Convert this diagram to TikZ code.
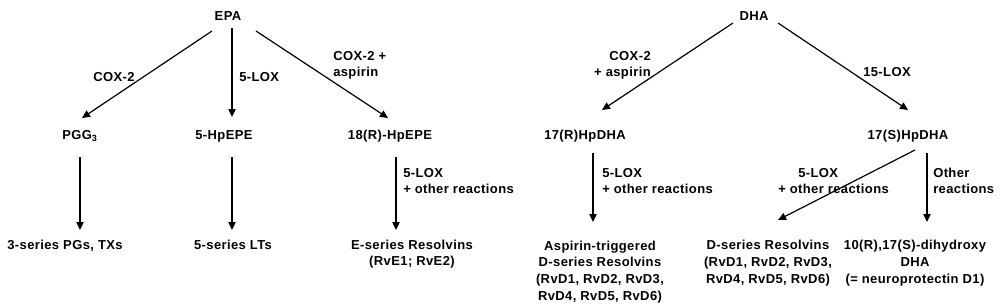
\documentclass[tikz,border=0pt]{standalone}
\usepackage{fontspec}
\setmainfont{Liberation Sans}[LetterSpace=3]
\usetikzlibrary{arrows.meta}
\begin{document}
\begin{tikzpicture}[x=0.75pt,y=-0.75pt,
  txt/.style={font=\bfseries\fontsize{9.75}{12.5}\selectfont, inner sep=0pt, align=center, anchor=base},
  lab/.style={font=\bfseries\fontsize{9.75}{12.5}\selectfont, inner sep=0pt, anchor=base west, align=left},
  arr/.style={-{Triangle[length=6pt,width=5.5pt]}, line width=0.9pt}]
\useasboundingbox[fill=white] (0,0) rectangle (1000,307);
% EPA branch
\node[txt] (epa) at (228,20) {EPA};
\node[txt] (pgg) at (80,139) {PGG\textsubscript{3}};
\node[txt] (hp5) at (224,139) {5-HpEPE};
\node[txt] (hp18) at (390,139) {18(R)-HpEPE};
\node[txt] (pgs) at (65,249) {3-series PGs, TXs};
\node[txt] (lts) at (233,249) {5-series LTs};
\node[txt] (rve) at (412,265.7) {E-series Resolvins\\(RvE1; RvE2)};
\draw[arr] ([shift={(-16,11)}]epa.base) -- ([shift={(2,-21)}]pgg.base);
\draw[arr] ([shift={(4,8)}]epa.base) -- ([shift={(8,-22)}]hp5.base);
\draw[arr] ([shift={(28,11)}]epa.base) -- ([shift={(-2,-21)}]hp18.base);
\draw[arr] ([shift={(0,18)}]pgg.base) -- ([shift={(15,-19)}]pgs.base);
\draw[arr] ([shift={(8,18)}]hp5.base) -- ([shift={(-1,-19)}]lts.base);
\draw[arr] ([shift={(6,18)}]hp18.base) -- ([shift={(-16,-35.7)}]rve.base);
\node[lab] (l1) at (93,81) {COX-2};
\node[lab] (l2) at (239,81) {5-LOX};
\node[lab] (l3) at (333,76.7) {COX-2 +\\aspirin};
\node[lab] (l4) at (403,193.7) {5-LOX\\+ other reactions};
% DHA branch
\node[txt] (dha) at (754,20) {DHA};
\node[txt] (r17) at (585,139) {17(R)HpDHA};
\node[txt] (s17) at (908,139) {17(S)HpDHA};
\node[txt] (atr) at (600,300) {Aspirin-triggered\\D-series Resolvins\\(RvD1, RvD2, RvD3,\\RvD4, RvD5, RvD6)};
\node[txt] (dsr) at (768,283.3) {D-series Resolvins\\(RvD1, RvD2, RvD3,\\RvD4, RvD5, RvD6)};
\node[txt] (npd) at (915,283.3) {10(R),17(S)-dihydroxy\\DHA\\(= neuroprotectin D1)};
\draw[arr] ([shift={(-21,3)}]dha.base) -- ([shift={(17,-29)}]r17.base);
\draw[arr] ([shift={(24,3)}]dha.base) -- ([shift={(0,-29)}]s17.base);
\draw[arr] ([shift={(8,14)}]r17.base) -- ([shift={(-7,-78)}]atr.base);
\draw[arr] ([shift={(7,11)}]s17.base) -- ([shift={(10,-63.3)}]dsr.base);
\draw[arr] ([shift={(19,14)}]s17.base) -- ([shift={(12,-61.3)}]npd.base);
\node[lab, anchor=base east, align=right] (l5) at (651,76.7) {COX-2\\+ aspirin};
\node[lab] (l6) at (863,76) {15-LOX};
\node[lab] (l7) at (602,193.7) {5-LOX\\+ other reactions};
\node[lab] (l8) at (778,193.7) {\hspace*{15pt}5-LOX\\+ other reactions};
\node[lab] (l9) at (933,193.7) {Other\\reactions};
\end{tikzpicture}
\end{document}
